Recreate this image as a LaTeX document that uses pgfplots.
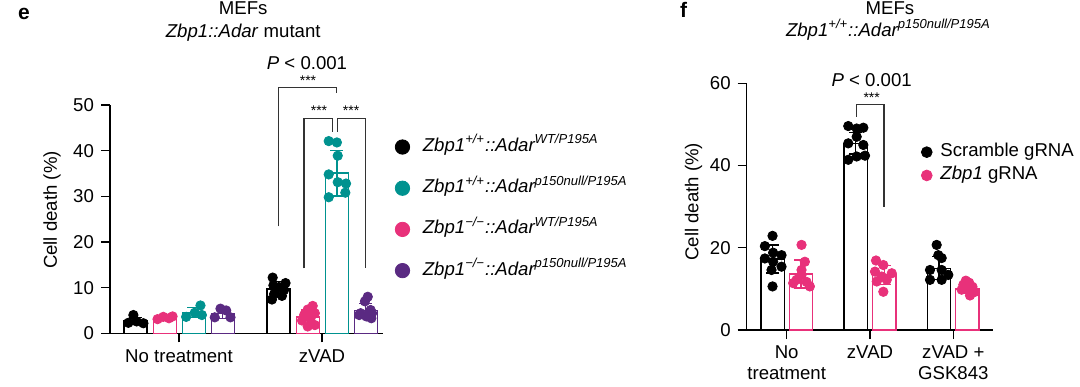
\documentclass[border=0pt]{standalone}
\usepackage{pgfplots}
\pgfplotsset{compat=1.18}
\usepackage{fontspec}
\setmainfont{Liberation Sans}
\newcommand{\fs}{\fontsize{9.3}{10.2}\selectfont}
\newcommand{\fa}{\fontsize{7}{8}\selectfont}
\definecolor{cteal}{HTML}{00928F}
\definecolor{cpink}{HTML}{E8317A}
\definecolor{cpurp}{HTML}{5A2A82}
\definecolor{cbr}{HTML}{333333}
\pgfplotsset{
  panel/.style={
    scale only axis, axis lines=left, axis line style={-, line width=0.6pt},
    tick align=outside, major tick length=4.5pt,
    tick style={line width=0.6pt, black},
    ticklabel style={font=\fs},
    label style={font=\fs},
    /pgf/number format/assume math mode=true,
    clip=false, ymin=0,
    legend cell align=left,
  },
  barp/.style={ybar, bar shift=0pt, fill=white, draw=#1, line width=0.65pt, forget plot,
    error bars/y dir=both, error bars/y explicit,
    error bars/error bar style={line width=0.65pt, #1},
    error bars/error mark options={rotate=90, mark size=3.3pt, line width=0.65pt, #1}},
  dots/.style={only marks, mark=*, mark size=2.35pt, color=#1, forget plot},
}
\begin{document}
\begin{tikzpicture}
\path[use as bounding box] (0,0) rectangle (540pt,193pt);
% titles
\node[anchor=base west, font=\fontsize{10.5}{12}\selectfont\bfseries] at (5.5pt,183pt) {e};
\node[anchor=base, font=\fs] at (121.6pt,185.5pt) {MEFs};
\node[anchor=base, font=\fs] at (121.6pt,174.4pt) {\textit{Zbp1::Adar} mutant};
\node[anchor=base west, font=\fontsize{10.5}{12}\selectfont\bfseries] at (336.5pt,184pt) {f};
\node[anchor=base, font=\fs] at (445pt,185.5pt) {MEFs};
\node[anchor=base, font=\fs] at (444.2pt,174.7pt) {\textit{Zbp1\textsuperscript{+/+}::Adar\textsuperscript{p150null/P195A}}};

% ---------------- panel e
\begin{axis}[panel, at={(55pt,26.35pt)}, anchor=south west,
  width=136.5pt, height=114.15pt,
  xmin=-0.4825, xmax=1.4266, ymax=50, ytick={0,10,20,30,40,50},
  xtick={0,1}, xticklabels={No treatment, zVAD},
  ylabel={Cell death (\%)},
  ylabel style={at={(axis description cs:-0.2125,0.54)}, anchor=center},
  legend image code/.code={\fill[#1] (0pt,0pt) circle (3.6pt);},
  legend style={at={(1.042,0.855)}, anchor=north west, draw=none, fill=none,
    inner sep=0pt, row sep=12.1pt, column sep=6.4pt, font=\fs,
    nodes={inner sep=0pt, text height=6.5pt, text depth=2pt}},
]
\addlegendimage{black}
\addlegendentry{\textit{Zbp1\textsuperscript{+/+}::Adar\textsuperscript{WT/P195A}}}
\addlegendimage{cteal}
\addlegendentry{\textit{Zbp1\textsuperscript{+/+}::Adar\textsuperscript{p150null/P195A}}}
\addlegendimage{cpink}
\addlegendentry{\textit{Zbp1\textsuperscript{−/−}::Adar\textsuperscript{WT/P195A}}}
\addlegendimage{cpurp}
\addlegendentry{\textit{Zbp1\textsuperscript{−/−}::Adar\textsuperscript{p150null/P195A}}}
% bars
\addplot[bar width=0.161, barp=black] coordinates {(-0.304,2.7) +- (0,0.8) (0.696,9.7) +- (0,1.6)};
\addplot[bar width=0.161, barp=cpink] coordinates {(-0.100,3.4) +- (0,0.3) (0.900,3.6) +- (0,1.5)};
\addplot[bar width=0.161, barp=cteal] coordinates {(0.104,4.5) +- (0,1.1) (1.104,35.1) +- (0,5.0)};
\addplot[bar width=0.161, barp=cpurp] coordinates {(0.306,4.3) +- (0,1.0) (1.306,5.0) +- (0,1.6)};
% points
\addplot[dots=black] coordinates {(-0.319,4.0) (-0.354,2.3) (-0.296,2.6) (-0.249,2.2)
  (0.655,12.2) (0.745,11.0) (0.660,10.5) (0.700,10.1) (0.735,9.5) (0.665,8.6) (0.720,8.2) (0.650,7.4)};
\addplot[dots=cpink] coordinates {(-0.150,3.1) (-0.110,3.6) (-0.070,3.3) (-0.045,3.7)
  (0.935,6.0) (0.900,5.2) (0.950,4.4) (0.875,4.0) (0.920,3.3) (0.860,2.8) (0.950,1.8) (0.900,1.5)};
\addplot[dots=cteal] coordinates {(0.050,3.6) (0.110,4.5) (0.150,6.1) (0.160,4.0)
  (1.047,42.1) (1.104,41.8) (1.110,38.9) (1.047,34.8) (1.110,33.1) (1.168,32.8) (1.047,29.8) (1.163,30.8)};
\addplot[dots=cpurp] coordinates {(0.250,3.5) (0.290,5.4) (0.330,5.0) (0.360,3.5)
  (1.320,8.0) (1.300,7.0) (1.340,5.1) (1.270,4.4) (1.350,4.4) (1.310,3.7) (1.260,4.0) (1.345,3.3)};
% brackets
\draw[cbr, line width=0.55pt] (axis cs:0.695,23.4) |- (axis cs:1.103,53.8) -- (axis cs:1.103,52.6);
\draw[cbr, line width=0.55pt] (axis cs:0.874,14.2) |- (axis cs:1.072,47.1) -- (axis cs:1.072,44.15);
\draw[cbr, line width=0.55pt] (axis cs:1.107,44.15) |- (axis cs:1.306,47.1) -- (axis cs:1.306,14.2);
\node[anchor=base, font=\fa, inner sep=0pt] at (axis cs:0.902,54.3) {***};
\node[anchor=base, font=\fa, inner sep=0pt] at (axis cs:0.979,47.6) {***};
\node[anchor=base, font=\fa, inner sep=0pt] at (axis cs:1.203,47.6) {***};
\node[anchor=base, font=\fs, inner sep=0pt] at (axis cs:0.895,57.75) {\textit{P} < 0.001};
\end{axis}

% ---------------- panel f
\begin{axis}[panel, at={(373.35pt,28pt)}, anchor=south west,
  width=123.3pt, height=123.35pt,
  xmin=-0.48, xmax=2.48, ymax=60, ytick={0,20,40,60},
  xtick={0,1,2}, xticklabels={No\\treatment, zVAD, zVAD +\\GSK843},
  xticklabel style={align=center},
  ylabel={Cell death (\%)},
  ylabel style={at={(axis description cs:-0.216,0.52)}, anchor=center},
  legend image code/.code={\fill[#1] (0pt,0pt) circle (2.7pt);},
  legend style={at={(0.705,0.757)}, anchor=north west, draw=none, fill=none,
    inner sep=0pt, row sep=3.15pt, column sep=3.95pt, font=\fs,
    nodes={inner sep=0pt, text height=6.5pt, text depth=2pt}},
]
\addlegendimage{black}
\addlegendentry{Scramble gRNA}
\addlegendimage{cpink}
\addlegendentry{\textit{Zbp1} gRNA}
\addplot[bar width=0.28, barp=black] coordinates {(-0.17,17.3) +- (0,3.4) (0.828,45.4) +- (0,2.6) (1.828,15.0) +- (0,2.8)};
\addplot[bar width=0.28, barp=cpink] coordinates {(0.17,13.6) +- (0,3.4) (1.172,13.4) +- (0,2.3) (2.168,10.0) +- (0,1.1)};
\addplot[dots=black] coordinates {(-0.17,22.9) (-0.262,20.4) (-0.163,18.8) (-0.062,18.2) (-0.262,17.4) (-0.163,16.6) (-0.062,15.4) (-0.182,14.6) (-0.17,10.6)
  (0.739,49.6) (0.840,49.0) (0.920,49.2) (0.840,47.0) (0.739,45.4) (0.920,45.0) (0.739,41.4) (0.840,42.2) (0.940,42.4)
  (1.800,20.7) (1.820,18.2) (1.860,17.5) (1.720,14.6) (1.860,14.6) (1.940,13.4) (1.720,12.2) (1.860,12.2)};
\addplot[dots=cpink] coordinates {(0.178,20.7) (0.218,16.6) (0.178,14.6) (0.118,12.2) (0.238,11.7) (0.278,10.6) (0.078,11.4) (0.178,13.4)
  (1.072,16.9) (1.160,15.8) (1.060,14.2) (1.261,13.8) (1.141,13.0) (1.201,12.2) (1.081,11.8) (1.160,9.3)
  (2.150,12.0) (2.190,11.5) (2.120,11.0) (2.230,10.5) (2.170,10.0) (2.100,9.8) (2.250,9.2) (2.200,8.4)};
\draw[cbr, line width=0.55pt] (axis cs:0.84,51.9) |- (axis cs:1.168,54.9) -- (axis cs:1.168,30.0);
\node[anchor=base, font=\fa, inner sep=0pt] at (axis cs:1.02,55.3) {***};
\node[anchor=base, font=\fs, inner sep=0pt] at (axis cs:1.02,59.2) {\textit{P} < 0.001};
\end{axis}
\end{tikzpicture}
\end{document}
